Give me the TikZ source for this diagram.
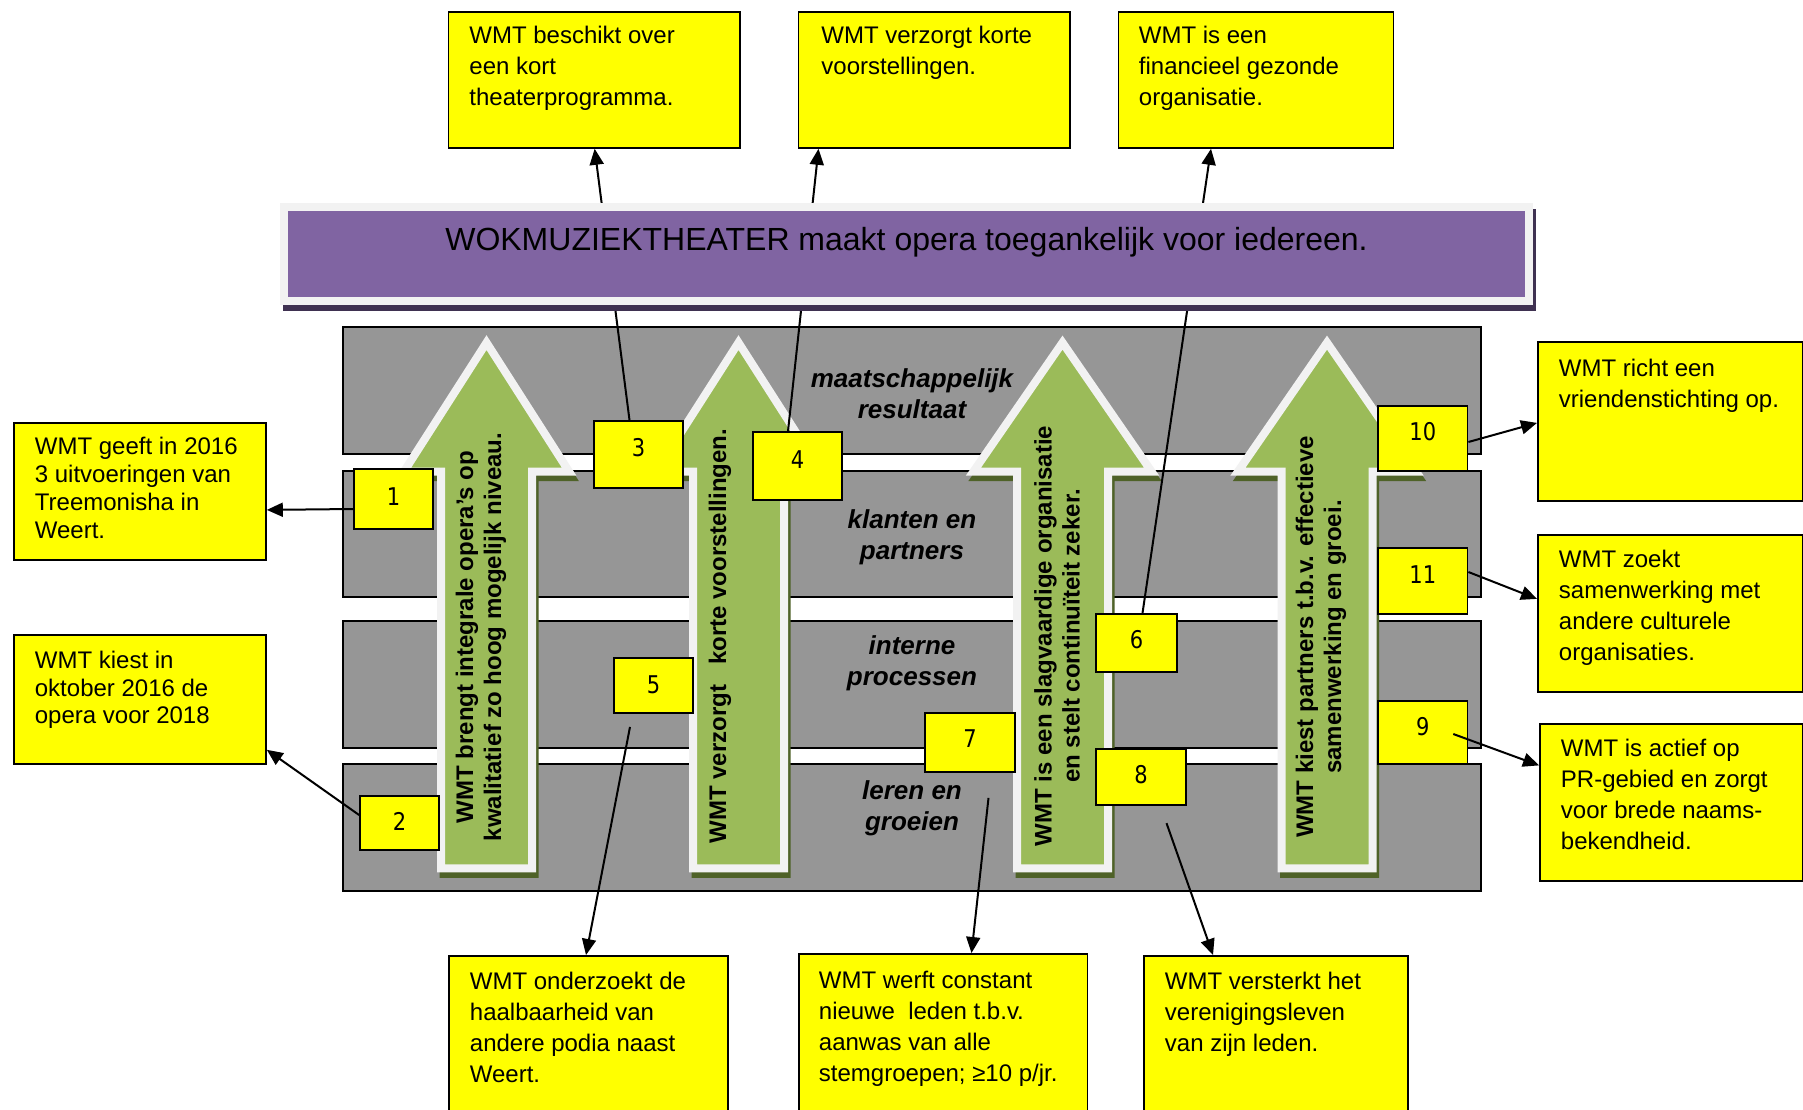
\documentclass[tikz,border=0pt]{standalone}
\usepackage{fontspec}
\setmainfont{Liberation Sans}
\newfontfamily\numfont[FakeStretch=0.86]{DejaVu Sans}
\usetikzlibrary{arrows.meta,calc}
\definecolor{bandgray}{HTML}{969696}
\definecolor{agreen}{HTML}{9BBB59}
\definecolor{ashadow}{HTML}{4F6228}
\definecolor{awhite}{HTML}{F2F2F2}
\definecolor{tpurple}{HTML}{8064A2}
\definecolor{tshadow}{HTML}{3F3151}
\definecolor{ybyellow}{HTML}{FFFF00}
\newcommand\ybx[5]{\parbox[c][#2pt][t]{#1pt}{\parindent=0pt\leftskip=#3pt\rightskip=0pt plus 1fil\vspace*{#4pt}\rule{0pt}{18pt}#5}}
\newcommand\wmtarrow[2]{%
 \filldraw[ashadow, line width=8pt, shift={(2.5,5.5)}] (#1,342.6) -- (#1+#2,471.5) -- (#1+45.5,471.5) -- (#1+45.5,868.3) -- (#1-45.5,868.3) -- (#1-45.5,471.5) -- (#1-#2,471.5) -- cycle;
 \filldraw[fill=agreen, draw=awhite, line width=8pt] (#1,342.6) -- (#1+#2,471.5) -- (#1+45.5,471.5) -- (#1+45.5,868.3) -- (#1-45.5,868.3) -- (#1-45.5,471.5) -- (#1-#2,471.5) -- cycle;
}
\tikzset{
 ybox/.style={draw=black, fill=ybyellow, line width=1.8pt, inner sep=0pt, anchor=north west, font=\fontsize{24}{31}\selectfont},
 numbox/.style={draw=black, fill=ybyellow, line width=1.8pt, inner sep=0pt, font=\numfont\fontsize{24.4}{28}\selectfont, text height=17.5pt},
 band/.style={draw=black, fill=bandgray, line width=1.5pt},
 bandlabel/.style={font=\bfseries\itshape\fontsize{26}{31}\selectfont, align=center, inner sep=0pt},
 arrowtext/.style={font=\bfseries\fontsize{24}{28}\selectfont, align=center, rotate=90, inner sep=0pt},
 conn/.style={line width=2pt, -{Triangle[length=16pt,width=14pt]}},
}
\begin{document}
\begin{tikzpicture}[x=1pt,y=-1pt]
\useasboundingbox (0,0) rectangle (1803,1110);
\fill[white] (0,0) rectangle (1803,1110);
% bands
\draw[band] (343,327) rectangle (1481,454);
\draw[band] (343,471) rectangle (1481,597);
\draw[band] (343,621) rectangle (1481,748);
\draw[band] (343,764) rectangle (1481,891);
% big arrows
\wmtarrow{486.5}{82.5}
\wmtarrow{738.5}{82.5}
\wmtarrow{1062.5}{89}
\wmtarrow{1327}{89}
% band labels
\node[bandlabel] (lab1) at (912,394) {maatschappelijk\\resultaat};
\node[bandlabel] (lab2) at (912,537.5) {klanten en\\partners};
\node[bandlabel] (lab3) at (912,663.5) {interne\\processen};
\node[bandlabel] (lab4) at (912,808) {leren en\\groeien};
% arrow texts
\node[arrowtext] (t1) at (481,637) {WMT brengt integrale opera’s op\\kwalitatief zo hoog mogelijk niveau.};
\node[arrowtext] (t2) at (720,636) {WMT verzorgt\hspace{20pt}korte voorstellingen.};
\node[arrowtext] (t3) at (1057,636) {WMT is een slagvaardige organisatie\\en stelt continuïteit zeker.};
\node[arrowtext] (t4) at (1321,637) {WMT kiest partners t.b.v. effectieve\\samenwerking en groei.};
% number boxes
\node[numbox, minimum width=79pt, minimum height=60pt, text depth=4pt] (n1) at (393.5,499) {1};
\node[numbox, minimum width=79pt, minimum height=54pt, text depth=2pt] (n2) at (399.5,823) {2};
\node[numbox, minimum width=89pt, minimum height=67pt, text depth=13pt] (n3) at (638.5,454.5) {3};
\node[numbox, minimum width=89pt, minimum height=68pt, text depth=12pt] (n4) at (797.5,466) {4};
\node[numbox, minimum width=79pt, minimum height=55pt, text depth=1pt] (n5) at (653.5,685.5) {5};
\node[numbox, minimum width=81pt, minimum height=58pt, text depth=6pt] (n6) at (1136.5,643) {6};
\node[numbox, minimum width=90pt, minimum height=59pt, text depth=8pt] (n7) at (970,742.5) {7};
\node[numbox, minimum width=90pt, minimum height=56.5pt, text depth=4pt] (n8) at (1141,777) {8};
\node[numbox, minimum width=89.5pt, minimum height=65pt, text depth=13pt] (n10) at (1422.75,438.5) {10};
\node[numbox, minimum width=89.5pt, minimum height=66pt, text depth=12pt] (n11) at (1422.75,581) {11};
\node[numbox, minimum width=89.5pt, minimum height=63pt, text depth=11pt] (n9) at (1422.75,732.5) {9};
% top boxes
\node[ybox] (A) at (447.5,11) {\ybx{291.5}{136}{21}{14}{WMT beschikt over\\een kort\\theaterprogramma.}};
\node[ybox] (B) at (797.5,11) {\ybx{271.5}{136}{23}{14}{WMT verzorgt korte\\voorstellingen.}};
\node[ybox] (C) at (1117.5,11) {\ybx{275}{136}{20.5}{14}{WMT is een\\financieel gezonde\\organisatie.}};
% connectors to top boxes (behind title)
\draw[conn] ($(n3.north)+(-9,0)$) -- ($(A.south)+(0.5,0)$);
\draw[conn] ($(n4.north)+(-9.5,0)$) -- ($(B.south west)+(21,0)$);
\draw[conn] ($(n6.north)+(6,0)$) -- ($(C.south west)+(93.5,0)$);
% title
\fill[tshadow] (283,209) rectangle (1536,311);
\node[draw=awhite, fill=tpurple, line width=8pt, minimum width=1245pt, minimum height=94pt, inner sep=0pt,
      font=\fontsize{32}{38}\selectfont, text height=24pt, text depth=32pt] (title) at (906.5,254)
      {WOKMUZIEKTHEATER maakt opera toegankelijk voor iedereen.};
% side boxes
\node[ybox, font=\fontsize{24}{27.7}\selectfont] (L1) at (13,422) {\ybx{252}{137}{21}{14}{WMT geeft in 2016\\3 uitvoeringen van\\Treemonisha in\\Weert.}};
\node[ybox, font=\fontsize{24}{27.7}\selectfont] (L2) at (13,634) {\ybx{252}{129}{21}{15.5}{WMT kiest in\\oktober 2016 de\\opera voor 2018}};
\node[ybox] (R1) at (1537,341) {\ybx{264.5}{159}{21}{16.5}{WMT richt een\\vriendenstichting op.}};
\node[ybox] (R2) at (1537,534) {\ybx{264.5}{157}{21}{14.5}{WMT zoekt\\samenwerking met\\andere culturele\\organisaties.}};
\node[ybox] (R3) at (1539,723) {\ybx{262.5}{157}{21}{14.5}{WMT is actief op\\PR-gebied en zorgt\\voor brede naams-\\bekendheid.}};
% bottom boxes
\node[ybox] (B1) at (448,955) {\ybx{279}{170}{21}{16}{WMT onderzoekt de\\haalbaarheid van\\andere podia naast\\Weert.}};
\node[ybox] (B2) at (798,953) {\ybx{288.5}{172}{20}{16.5}{WMT werft constant\\nieuwe\ \ leden t.b.v.\\aanwas van alle\\stemgroepen; ≥10 p/jr.}};
\node[ybox] (B3) at (1143,955) {\ybx{264}{170}{21}{16}{WMT versterkt het\\verenigingsleven\\van zijn leden.}};
% side connectors
\draw[conn] ($(n1.west)+(0,10)$) -- ($(L1.east)+(0,18.5)$);
\draw[conn] ($(n2.west)+(0,-8)$) -- ($(L2.south east)+(0,-15)$);
\draw[conn] ($(n10.east)+(0,3.5)$) -- ($(R1.west)+(0,1.5)$);
\draw[conn] ($(n11.east)+(0,-9)$) -- ($(R2.west)+(0,-14.5)$);
\draw[conn] ($(n9.center)+(30.5,1.5)$) -- ($(R3.west)+(0,-37)$);
% bottom connectors
\draw[conn] ($(n5.south)+(-23.5,13)$) -- ($(B1.north west)+(138,0)$);
\draw[conn] ($(n7.south)+(18.5,25)$) -- ($(B2.north west)+(173.5,0)$);
\draw[conn] ($(n8.south)+(25.5,17)$) -- ($(B3.north west)+(70,0)$);
\end{tikzpicture}
\end{document}
